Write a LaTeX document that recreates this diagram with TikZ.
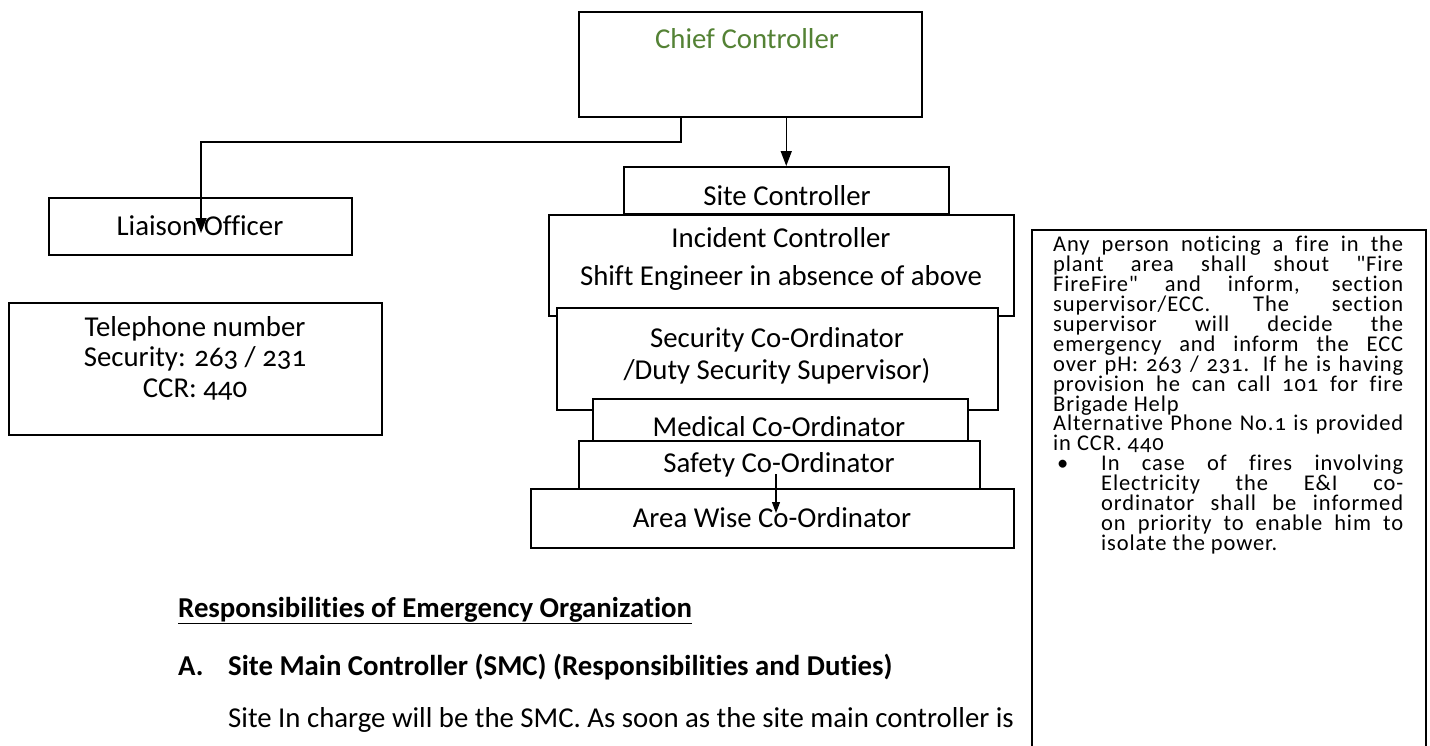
\documentclass[tikz,border=0pt]{standalone}
\usepackage{fontspec}
\setmainfont{Carlito}[Numbers=OldStyle, Ligatures=CommonOff]
\newfontfamily\notefont{Carlito}[Numbers=OldStyle, LetterSpace=4, Ligatures=CommonOff]
\usetikzlibrary{arrows.meta}
\definecolor{chiefgreen}{RGB}{84,130,53}
\begin{document}
\begin{tikzpicture}[x=1pt,y=-1pt,
  box/.style={draw, line width=1.5pt, fill=white, inner sep=0pt, anchor=north west},
  boxtext/.style={inner sep=0pt, font=\fontsize{28.8}{34}\selectfont, align=center},
  body/.style={inner sep=0pt, anchor=base west, font=\fontsize{28.8}{34}\selectfont},
  bodyhead/.style={body, font=\fontsize{28.8}{34}\bfseries\selectfont},
  arr/.style={line width=1.5pt, -{Triangle[length=15pt,width=11pt]}},
]
\clip (0,0) rectangle (1430,745);
\fill[white] (0,0) rectangle (1430,745);

% Chief controller
\node[box, minimum width=343pt, minimum height=105pt] (chief) at (578,11) {};
\node[boxtext, text=chiefgreen] (chieft) at (747,39) {Chief Controller};

% Liaison officer
\node[box, minimum width=303pt, minimum height=57pt] (liaison) at (48,197) {};
\node[boxtext] (liaisont) at (200,226) {Liaison Officer};

% Telephone box
\node[box, minimum width=373pt, minimum height=132pt] (tel) at (8,302) {};
\node[boxtext, font=\fontsize{28.8}{30.5}\selectfont] (telt) at (195,358) {Telephone number\\Security: 263 / 231\\CCR: 440};

% Stack of boxes
\node[box, minimum width=325pt, minimum height=47pt] (site) at (623,166) {};
\node[boxtext] (sitet) at (787,196) {Site Controller};

\node[box, minimum width=465pt, minimum height=101pt] (incident) at (548,214) {};
\node[boxtext, font=\fontsize{28.8}{38}\selectfont] (incidentt) at (781,259) {Incident Controller\\Shift Engineer in absence of above};

\node[box, minimum width=441pt, minimum height=102pt] (security) at (556,307) {};
\node[boxtext, font=\fontsize{28.8}{32}\selectfont] (securityt) at (777,356) {Security Co-Ordinator\\/Duty Security Supervisor)};

\node[box, minimum width=375pt, minimum height=50pt] (medical) at (592,398) {};
\node[boxtext] (medicalt) at (779,427) {Medical Co-Ordinator};

\node[box, minimum width=401pt, minimum height=48pt] (safety) at (578,440) {};
\node[boxtext] (safetyt) at (779,465) {Safety Co-Ordinator};

\node[box, minimum width=483pt, minimum height=59pt] (area) at (530,488) {};
\node[boxtext] (areat) at (772,518) {Area Wise Co-Ordinator};

% Connectors
\coordinate (cj) at (681,142);
\coordinate (lend) at (201,233);
\draw[arr] (chief.south -| cj) -- (cj) -| (lend);
\draw[arr] (site.north |- chief.south) -- (site.north);
\coordinate (sa) at (776,474);
\coordinate (sb) at (776,513);
\draw[line width=1.2pt, -{Triangle[length=11pt,width=8pt]}] (sa) -- (sb);

% Body text
\node[bodyhead] (head) at (178,617) {\underline{Responsibilities of Emergency Organization}};
\node[bodyhead] (hA) at (178,675) {A.};
\node[bodyhead] (hAt) at (228,675) {Site Main Controller (SMC) (Responsibilities and Duties)};
\node[body] (para) at (228,727) {Site In charge will be the SMC. As soon as the site main controller is};

% Right note box
\node[box, minimum width=394pt, minimum height=540pt] (note) at (1031,229) {};
\node[inner sep=0pt, anchor=north west, text width=350pt, align=justify,
      font=\notefont\fontsize{22.5}{19.9}\selectfont] (notet) at (1053,236) {%
\tolerance=10000\hbadness=10000\parindent=0pt\lineskiplimit=-30pt
Any person noticing a fire in the\linebreak
plant area shall shout "Fire\linebreak
FireFire" and inform, section\linebreak
supervisor/ECC. The section\linebreak
supervisor will decide the\linebreak
emergency and inform the ECC\linebreak
over pH: 263 / 231. If he is having\linebreak
provision he can call 101 for fire\linebreak
Brigade Help\par
Alternative Phone No.1 is provided\linebreak
in CCR. 440\par
\hangindent=48pt\hangafter=0\noindent\llap{\makebox[48pt][l]{\hspace{4pt}\textbullet}}In case of fires involving\linebreak
Electricity the E\&I co-\linebreak
ordinator shall be informed\linebreak
on priority to enable him to\linebreak
isolate the power.\par};
\end{tikzpicture}
\end{document}
